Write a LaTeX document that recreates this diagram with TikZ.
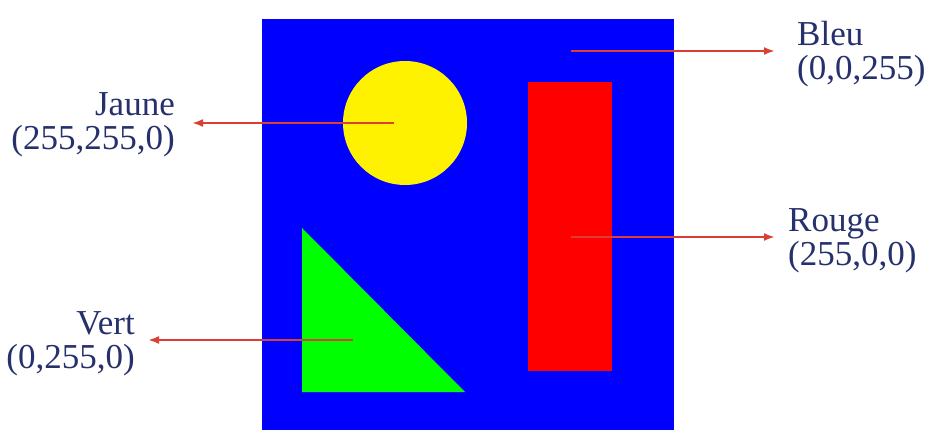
\documentclass[tikz,border=0pt]{standalone}
\usepackage{fontspec}
\setmainfont{Liberation Serif}
\usetikzlibrary{arrows.meta}

\definecolor{tagtext}{RGB}{38,48,108}
\definecolor{tagred}{RGB}{218,62,52}

\begin{document}
\begin{tikzpicture}[
    x=1pt, y=-1pt,
    colourtag/.style={inner sep=0pt, text=tagtext, font=\fontsize{35}{34}\selectfont},
    tagarrow/.style={draw=tagred, line width=2.8pt, -{Latex[length=11pt,width=8pt]}}
]
\useasboundingbox (0,0) rectangle (928,430);

% Background square
\fill[blue] (262,19) rectangle (674,430);

% Shapes
\fill[yellow] (405,123) circle (62);
\fill[red] (528,82) rectangle (612,371);
\fill[green] (302,228) -- (302,392) -- (465,392) -- cycle;

% Points inside the shapes
\coordinate (jaunept) at (394,123);
\coordinate (bleupt) at (571,51);
\coordinate (rougept) at (571,237);
\coordinate (vertpt) at (353,340);

% Colour names
\node[colourtag, anchor=east, align=right] (jaune) at (175,124.5) {Jaune\\(255,255,0)};
\node[colourtag, anchor=west, align=left] (bleu) at (797,54.5) {Bleu\\(0,0,255)};
\node[colourtag, anchor=west, align=left] (rouge) at (788,240.5) {Rouge\\(255,0,0)};
\node[colourtag, anchor=east, align=right] (vert) at (135,344) {Vert\\(0,255,0)};

% Arrows
\draw[tagarrow, shorten >=17pt] (jaunept) -- (jaunept -| jaune.east);
\draw[tagarrow, shorten >=22pt] (bleupt) -- (bleupt -| bleu.west);
\draw[tagarrow, shorten >=13pt] (rougept) -- (rougept -| rouge.west);
\draw[tagarrow, shorten >=13pt] (vertpt) -- (vertpt -| vert.east);

\end{tikzpicture}
\end{document}
